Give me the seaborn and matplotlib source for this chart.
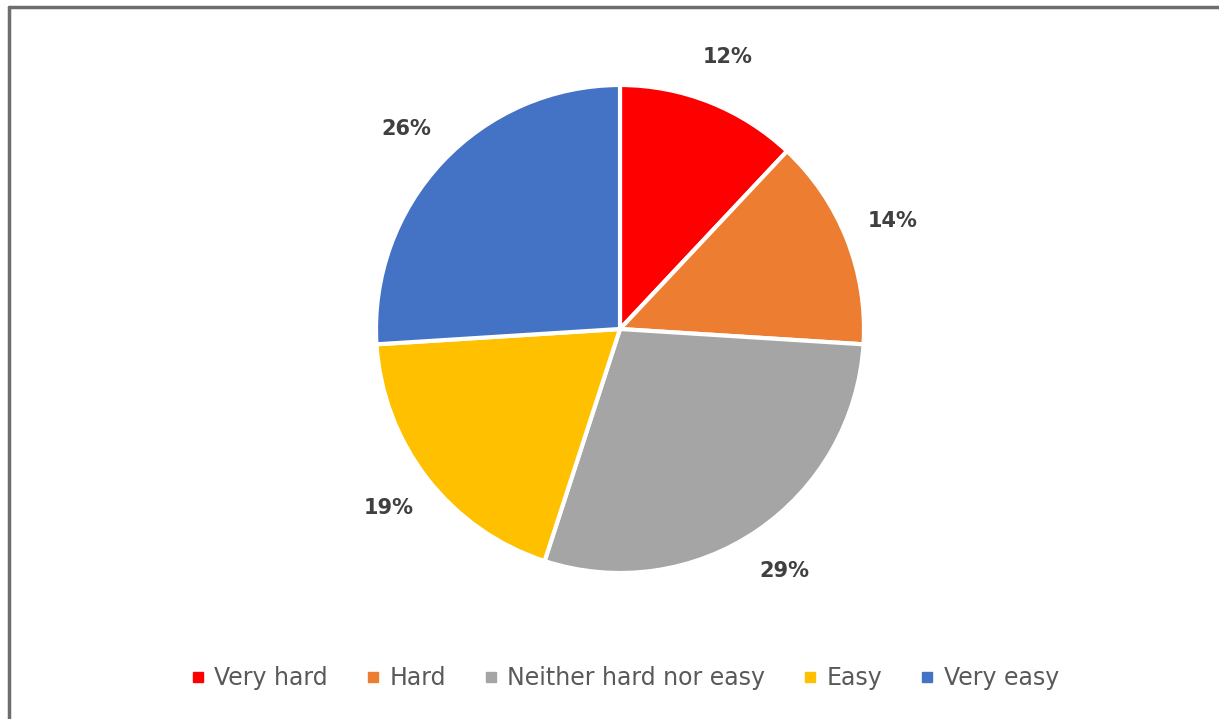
import matplotlib
matplotlib.use("Agg")
import matplotlib.pyplot as plt
from matplotlib.lines import Line2D
import seaborn as sns

categories = ["Very hard", "Hard", "Neither hard nor easy", "Easy", "Very easy"]
shares = [12, 14, 29, 19, 26]
colors = ["#FF0000", "#ED7D31", "#A5A5A5", "#FFC000", "#4472C4"]

sns.set_theme(style="white")
plt.rcParams["font.family"] = ["Liberation Sans Narrow", "DejaVu Sans"]

W, H = 1219, 719
fig = plt.figure(figsize=(W / 100, H / 100), dpi=100)
fig.patch.set_facecolor("white")

# pie centre ~ (620, 329) px, radius ~ 244 px
cx, cy, r = 620, 329, 244
ax = fig.add_axes([(cx - r) / W, (H - cy - r) / H, 2 * r / W, 2 * r / H])
wedges, texts = ax.pie(
    shares,
    colors=sns.color_palette(colors),
    startangle=90,
    counterclock=False,
    labels=[f"{v}%" for v in shares],
    labeldistance=1.2,
    wedgeprops=dict(edgecolor="white", linewidth=3),
    textprops=dict(color="#404040", fontsize=15, fontweight="bold",
                   family=["DejaVu Sans"]),
)
ax.set_xlim(-1, 1)
ax.set_ylim(-1, 1)
ax.set_aspect("equal")
ax.axis("off")
for t in texts:
    t.set_ha("center")
    t.set_va("center")

handles = [Line2D([], [], marker="s", ls="", color=c, markersize=7) for c in colors]
fig.legend(handles, categories, ncol=5, loc="center",
           bbox_to_anchor=(625 / W, 1 - 678 / H), frameon=False,
           handlelength=0.6, handletextpad=0.4, columnspacing=1.6,
           prop=dict(size=17), labelcolor="#595959")

# chart frame: only top and left edges visible in the reference
fig.add_artist(Line2D([9 / W, 9 / W], [0, 1 - 7 / H], transform=fig.transFigure,
                      color="#6E6E6E", lw=2.5))
fig.add_artist(Line2D([9 / W, 1], [1 - 7 / H, 1 - 7 / H], transform=fig.transFigure,
                      color="#6E6E6E", lw=2.5))

fig.savefig("out.png", dpi=100)
